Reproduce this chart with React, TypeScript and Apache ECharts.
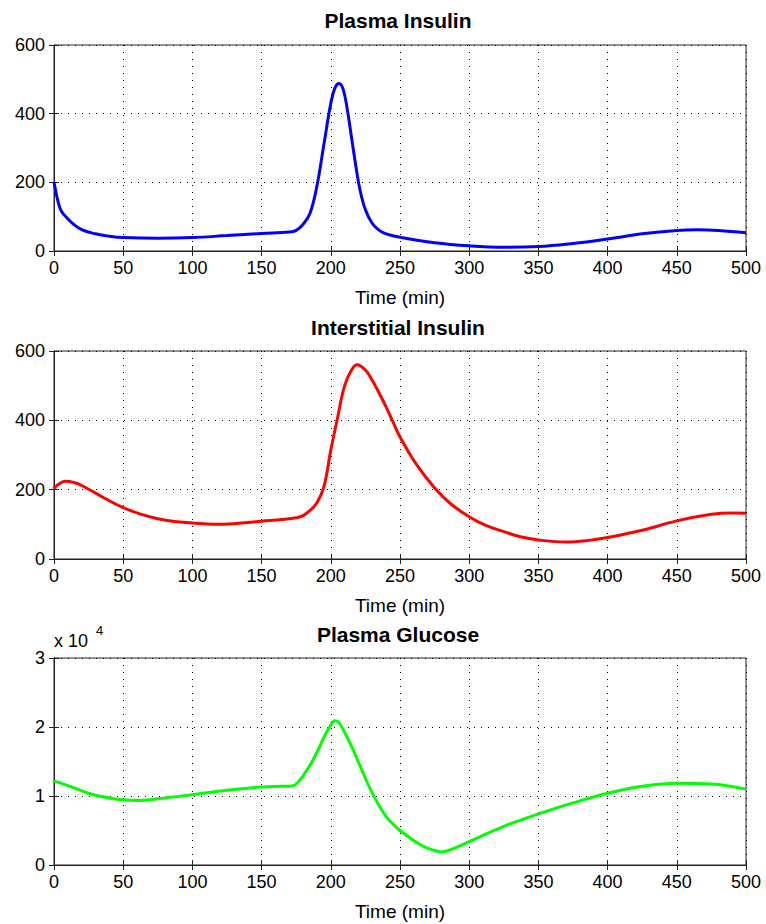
import React, { useEffect, useRef } from "react";
import * as echarts from "echarts";

// ---- Data ----
const timeTicks = [0, 50, 100, 150, 200, 250, 300, 350, 400, 450, 500];

const plasmaInsulinT = [0, 2, 4, 6, 9, 13, 20, 30, 40, 50, 75, 100, 125, 150, 170, 175, 180, 185, 190, 195, 200, 203, 206, 209, 212, 215, 218, 221, 225, 230, 235, 240, 250, 275, 300, 325, 350, 375, 400, 425, 450, 465, 480, 500];
const plasmaInsulinV = [200, 160, 128, 112, 98, 82, 62, 50, 43, 39, 37, 39, 45, 51, 55, 60, 78, 110, 190, 310, 430, 475, 488, 470, 410, 330, 250, 180, 120, 80, 60, 50, 40, 24, 15, 11, 13, 22, 35, 50, 60, 62, 60, 53];

const interstitialT = [0, 3, 8, 15, 20, 30, 40, 50, 62, 75, 87, 100, 115, 130, 150, 165, 175, 180, 185, 190, 195, 200, 205, 210, 215, 219, 225, 230, 235, 240, 245, 250, 262, 275, 287, 300, 312, 325, 337, 350, 370, 385, 400, 425, 450, 475, 490, 500];
const interstitialV = [203, 215, 224, 220, 212, 190, 168, 148, 130, 116, 108, 104, 100, 102, 109, 114, 119, 125, 140, 162, 208, 314, 410, 500, 545, 560, 545, 515, 478, 438, 395, 352, 272, 205, 158, 122, 97, 79, 64, 55, 49, 53, 62, 83, 110, 129, 133, 132];

const glucoseT = [0, 10, 25, 40, 50, 60, 75, 100, 125, 150, 165, 172, 178, 185, 190, 195, 200, 203, 206, 210, 215, 220, 230, 240, 250, 265, 275, 280, 285, 300, 325, 350, 375, 400, 425, 450, 475, 500];
const glucoseV = [12200, 11500, 10400, 9700, 9450, 9350, 9600, 10200, 10850, 11300, 11400, 11450, 12400, 14500, 16300, 18500, 20300, 20900, 20600, 19200, 17200, 14900, 10400, 7000, 5000, 2900, 2100, 1900, 2100, 3400, 5600, 7400, 9000, 10400, 11400, 11850, 11750, 11000];

const titles = ["Plasma Insulin", "Interstitial Insulin", "Plasma Glucose"];
const xLabel = "Time (min)";
const insulinTicks = [0, 200, 400, 600];
const glucoseTicks = [0, 10000, 20000, 30000];
const colors = ["#0000ff", "#ff0000", "#00ff00"];

const zip = (t: number[], v: number[]) => t.map((x, i) => [x, v[i]]);

export default function App() {
  const ref = useRef<HTMLDivElement>(null);
  useEffect(() => {
    if (!ref.current) return;
    const chart = echarts.init(ref.current, undefined, { renderer: "svg" });
    const font = "Liberation Sans, Arial, sans-serif";
    const grids = [
      { left: 54, top: 45, width: 692, height: 206 },
      { left: 54, top: 351, width: 692, height: 208 },
      { left: 54, top: 658, width: 692, height: 207 },
    ];
    const gridLine = { show: true, lineStyle: { color: "#000", width: 1, type: [1, 6] as any } };
    const xAxes: any[] = [];
    const yAxes: any[] = [];
    grids.forEach((g, i) => {
      xAxes.push({
        type: "value", gridIndex: i, min: timeTicks[0], max: timeTicks[timeTicks.length - 1], interval: 50,
        position: "bottom",
        name: xLabel, nameLocation: "middle", nameGap: 37,
        nameTextStyle: { fontFamily: font, fontSize: 19, color: "#000" },
        axisLine: { show: true, lineStyle: { color: "#222", width: 1 } },
        axisTick: { show: true, inside: true, length: 5, lineStyle: { color: "#222" } },
        axisLabel: { fontFamily: font, fontSize: 18, color: "#000", margin: 8 },
        splitLine: gridLine,
      });
      xAxes.push({
        type: "value", gridIndex: i, min: 0, max: 500, interval: 50, position: "top",
        axisLine: { show: true, lineStyle: { color: "#222", width: 1 } },
        axisTick: { show: true, inside: true, length: 5, lineStyle: { color: "#222" } },
        axisLabel: { show: false }, splitLine: { show: false },
      });
      const ticks = i === 2 ? glucoseTicks : insulinTicks;
      yAxes.push({
        type: "value", gridIndex: i, min: ticks[0], max: ticks[ticks.length - 1], interval: ticks[1] - ticks[0],
        position: "left",
        axisLine: { show: true, lineStyle: { color: "#222", width: 1 } },
        axisTick: { show: true, inside: true, length: 5, lineStyle: { color: "#222" } },
        axisLabel: {
          fontFamily: font, fontSize: 18, color: "#000", margin: 9,
          formatter: i === 2 ? (v: number) => String(v / 10000) : (v: number) => String(v),
        },
        splitLine: gridLine,
      });
      yAxes.push({
        type: "value", gridIndex: i, min: ticks[0], max: ticks[ticks.length - 1], interval: ticks[1] - ticks[0],
        position: "right",
        axisLine: { show: true, lineStyle: { color: "#222", width: 1 } },
        axisTick: { show: true, inside: true, length: 5, lineStyle: { color: "#222" } },
        axisLabel: { show: false }, splitLine: { show: false },
      });
    });
    const datasets = [
      zip(plasmaInsulinT, plasmaInsulinV),
      zip(interstitialT, interstitialV),
      zip(glucoseT, glucoseV),
    ];
    const series = datasets.map((d, i) => ({
      type: "line", xAxisIndex: i * 2, yAxisIndex: i * 2, data: d,
      showSymbol: false, smooth: 0.4,
      lineStyle: { color: colors[i], width: 3 }, z: 5,
    }));
    const titleY = [20, 327, 634];
    const graphic: any[] = titles.map((t, i) => ({
      type: "text", x: 398, y: titleY[i],
      style: { text: t, fontFamily: font, fontWeight: "bold", fontSize: 21, fill: "#000", align: "center", verticalAlign: "middle" },
    }));
    graphic.push({
      type: "text", x: 54, y: 641,
      style: { text: "x 10", fontFamily: font, fontSize: 18, fill: "#000", align: "left", verticalAlign: "middle" },
    });
    graphic.push({
      type: "text", x: 96, y: 630,
      style: { text: "4", fontFamily: font, fontSize: 13, fill: "#000", align: "left", verticalAlign: "middle" },
    });
    chart.setOption({
      animation: false,
      backgroundColor: "#fff",
      grid: grids.map((g) => ({ ...g, show: true, borderColor: "#222", borderWidth: 1, backgroundColor: "#fff" })),
      xAxis: xAxes,
      yAxis: yAxes,
      series,
      graphic,
    });
    return () => chart.dispose();
  }, []);
  return <div ref={ref} style={{ position: "absolute", left: 0, top: 0, width: 766, height: 924, background: "#fff" }} />;
}
